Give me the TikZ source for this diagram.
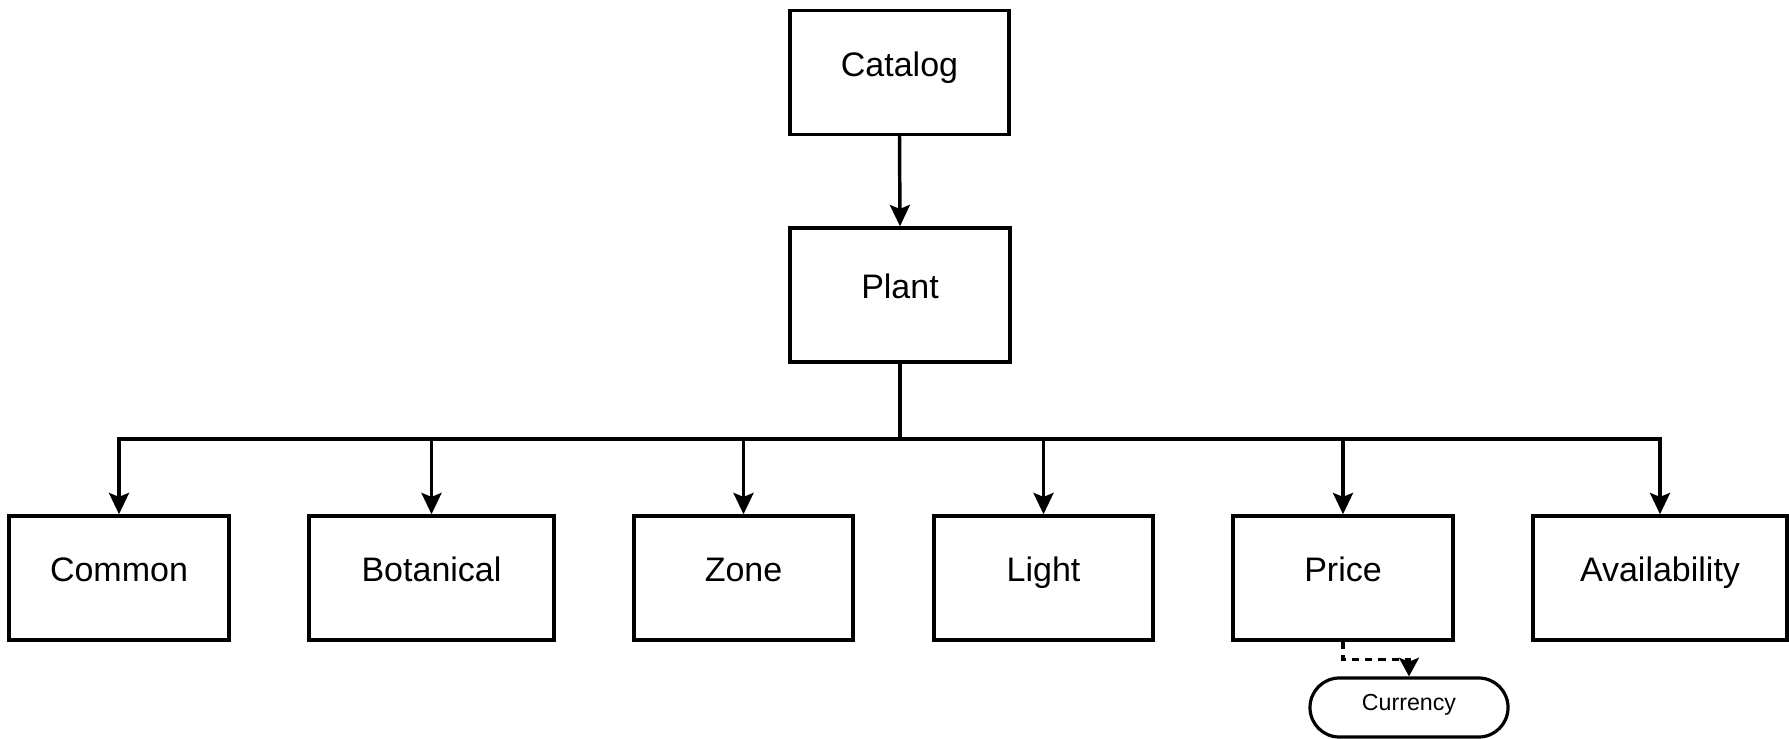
\documentclass[tikz,border=0pt]{standalone}
\usepackage{fontspec}
\setmainfont{Liberation Sans}
\usetikzlibrary{arrows.meta}

\tikzset{
  box/.style={draw=black, line width=2.6pt, fill=white, inner sep=0pt,
    font=\fontsize{25.5pt}{30pt}\selectfont,
    text height=18.26pt, text depth=13pt, minimum height=#1},
  box/.default=93pt,
  pill/.style={draw=black, line width=2.4pt, fill=white, inner sep=0pt,
    rounded corners=22pt, minimum width=148.5pt, minimum height=44.25pt,
    font=\fontsize{17.4pt}{21pt}\selectfont,
    text height=12.46pt, text depth=7.66pt},
  link/.style={draw=black, line width=2.6pt,
    -{Stealth[length=16pt, width=15pt, inset=3pt, fill=black]}},
  optlink/.style={draw=black, line width=2.4pt, dash pattern=on 5.5pt off 4.5pt,
    -{Stealth[length=14pt, width=15pt, inset=3pt, fill=black]}}
}

\begin{document}
\begin{tikzpicture}[x=0.75pt, y=-0.75pt]
  \useasboundingbox (0,0) rectangle (1789,739);

  % root and plant record
  \node[box, minimum width=164.25pt] (catalog) at (899.5,72.5) {Catalog};
  \node[box=100.5pt, minimum width=165pt] (plant) at (900,295) {Plant};

  % plant fields
  \node[box, minimum width=165pt]    (common)  at (119,578)    {Common};
  \node[box, minimum width=183.75pt] (botan)   at (431.5,578)  {Botanical};
  \node[box, minimum width=164.25pt] (zone)    at (743.5,578)  {Zone};
  \node[box, minimum width=164.25pt] (light)   at (1043.5,578) {Light};
  \node[box, minimum width=165pt]    (price)   at (1343,578)   {Price};
  \node[box, minimum width=190.5pt]  (avail)   at (1660,578)   {Availability};

  % price attribute
  \node[pill] (currency) at (1409,707.5) {Currency};

  \coordinate (bus) at (900,439);

  \draw[link] (catalog.south) -- (plant.north);
  \foreach \f in {common,botan,zone,light,price,avail}
    \draw[link] (plant.south) -- (bus) -| (\f.north);

  \draw[optlink] (price.south) -- ++(0,18) -| (currency.north);
\end{tikzpicture}
\end{document}
